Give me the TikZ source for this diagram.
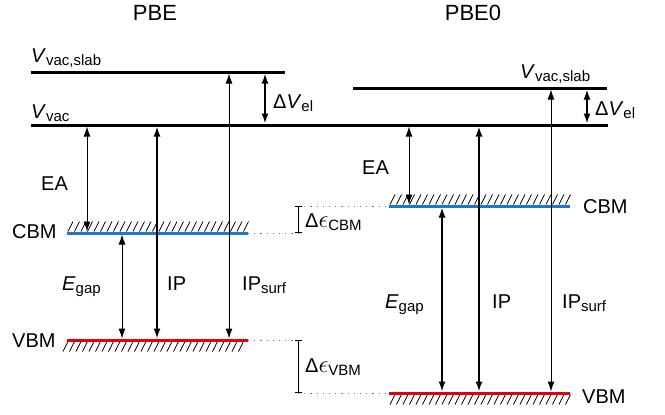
\documentclass[tikz,border=0pt]{standalone}
\usepackage{fontspec}
\setmainfont{Liberation Sans}
\usetikzlibrary{arrows.meta}
\definecolor{cbmblue}{HTML}{1C78C8}
\definecolor{vbmred}{HTML}{E4000A}
\definecolor{dotgray}{HTML}{808080}
\newcommand{\lsub}[1]{\raisebox{-3.5pt}{\fontsize{15}{15}\selectfont #1}}
\newcommand{\leps}{{\fontsize{23}{23}\selectfont$\epsilon$}}
\tikzset{
  lbl/.style={font=\fontsize{20}{22}\selectfont, inner sep=0pt, anchor=base west},
  head/.style={font=\fontsize{22}{24}\selectfont, inner sep=0pt, anchor=base},
  vaclevel/.style={line width=3pt, black},
  cbmlevel/.style={line width=3pt, cbmblue},
  vbmlevel/.style={line width=3pt, vbmred},
  hatch/.style={line width=0.7pt, black},
  gap/.style={{Latex[length=10pt,width=7pt]}-{Latex[length=10pt,width=7pt]}, line width=1.7pt, shorten <=1.5pt, shorten >=1.5pt},
  thingap/.style={gap, line width=1pt},
  guide/.style={dotgray, line width=0.8pt, dash pattern=on 1.2pt off 5pt},
  bar/.style={{Bar[width=7pt]}-{Bar[width=7pt]}, line width=0.9pt}
}

\begin{document}
\begin{tikzpicture}[x=1pt,y=-1pt]
\useasboundingbox (0,0) rectangle (665,415);

\node[head] (pbe) at (155,20) {PBE};
\node[head] (pbezero) at (473,20) {PBE0};

% Energy levels.
\coordinate (slab1) at (31,72);  \coordinate (slab1e) at (285,72);
\coordinate (vac)   at (31,125); \coordinate (vace)   at (608,125);
\coordinate (slab2) at (353,88); \coordinate (slab2e) at (607,88);
\coordinate (cbm1)  at (67,233); \coordinate (cbm1e)  at (248,233);
\coordinate (vbm1)  at (67,340); \coordinate (vbm1e)  at (248,340);
\coordinate (cbm2)  at (389,206); \coordinate (cbm2e) at (570,206);
\coordinate (vbm2)  at (389,393); \coordinate (vbm2e) at (570,393);

\draw[vaclevel] (slab1) -- (slab1e);
\draw[vaclevel] (vac) -- (vace);
\draw[vaclevel] (slab2) -- (slab2e);

\foreach \x in {68,74.5,...,244} {
  \draw[hatch] (\x,231.5) -- ++(5,-10);
  \draw[hatch] (\x,341.5) -- ++(-5,10);
}
\foreach \x in {390,396.5,...,566} {
  \draw[hatch] (\x,204.5) -- ++(5,-10);
  \draw[hatch] (\x+5,394.5) -- ++(-5,10);
}
\draw[cbmlevel] (cbm1) -- (cbm1e);
\draw[vbmlevel] (vbm1) -- (vbm1e);
\draw[cbmlevel] (cbm2) -- (cbm2e);
\draw[vbmlevel] (vbm2) -- (vbm2e);

% Arrow columns.
\coordinate (ea1) at (87,0);   \coordinate (eg1) at (122,0);
\coordinate (ip1) at (157,0);  \coordinate (ips1) at (229,0);
\coordinate (dv1) at (265,0);
\coordinate (ea2) at (409,0);  \coordinate (eg2) at (442,0);
\coordinate (ip2) at (479,0);  \coordinate (ips2) at (551,0);
\coordinate (dv2) at (587,0);
\coordinate (dcbm) at (298,0); \coordinate (dvbm) at (298,0);

% PBE arrows.
\draw[thingap] (ea1 |- vac) -- (ea1 |- cbm1);
\draw[thingap] (eg1 |- cbm1) -- (eg1 |- vbm1);
\draw[gap] (ip1 |- vac) -- (ip1 |- vbm1);
\draw[thingap] (ips1 |- slab1) -- (ips1 |- vbm1);
\draw[gap] (dv1 |- slab1) -- (dv1 |- vac);

% PBE0 arrows.
\draw[thingap] (ea2 |- vac) -- (ea2 |- cbm2);
\draw[gap] (eg2 |- cbm2) -- (eg2 |- vbm2);
\draw[gap] (ip2 |- vac) -- (ip2 |- vbm2);
\draw[thingap] (ips2 |- slab2) -- (ips2 |- vbm2);
\draw[gap] (dv2 |- slab2) -- (dv2 |- vac);

% Band edge offsets.
\draw[guide] (cbm1e) -- (dcbm |- cbm1);
\draw[guide] (dcbm |- cbm2) -- (cbm2);
\draw[guide] (vbm1e) -- (dvbm |- vbm1);
\draw[guide] (dvbm |- vbm2) -- (vbm2);
\draw[bar] (dcbm |- cbm2) -- (dcbm |- cbm1);
\draw[bar] (dvbm |- vbm1) -- (dvbm |- vbm2);

% Labels.
\node[lbl] (slablbl1) at (31,62) {\textit{V}\lsub{vac,slab}};
\node[lbl] (vaclbl) at (31,118) {\textit{V}\lsub{vac}};
\node[lbl] (dvlbl1) at (273,108) {Δ\textit{V}\lsub{el}};
\node[lbl] (slablbl2) at (520,78) {\textit{V}\lsub{vac,slab}};
\node[lbl] (dvlbl2) at (595,115) {Δ\textit{V}\lsub{el}};

\node[lbl] (ealbl1) at (41,190) {EA};
\node[lbl] (cbmlbl1) at (12,238) {CBM};
\node[lbl] (vbmlbl1) at (12,347) {VBM};
\node[lbl] (eglbl1) at (62,290) {\textit{E}\lsub{gap}};
\node[lbl] (iplbl1) at (167,290) {IP};
\node[lbl] (ipslbl1) at (242,290) {IP\lsub{surf}};

\node[lbl] (dcbmlbl) at (305,227) {Δ\leps\lsub{CBM}};
\node[lbl] (dvbmlbl) at (305,372) {Δ\leps\lsub{VBM}};

\node[lbl] (ealbl2) at (362,174) {EA};
\node[lbl] (cbmlbl2) at (583,213) {CBM};
\node[lbl] (vbmlbl2) at (582,403) {VBM};
\node[lbl] (eglbl2) at (385,308) {\textit{E}\lsub{gap}};
\node[lbl] (iplbl2) at (492,308) {IP};
\node[lbl] (ipslbl2) at (562,308) {IP\lsub{surf}};

\end{tikzpicture}
\end{document}
